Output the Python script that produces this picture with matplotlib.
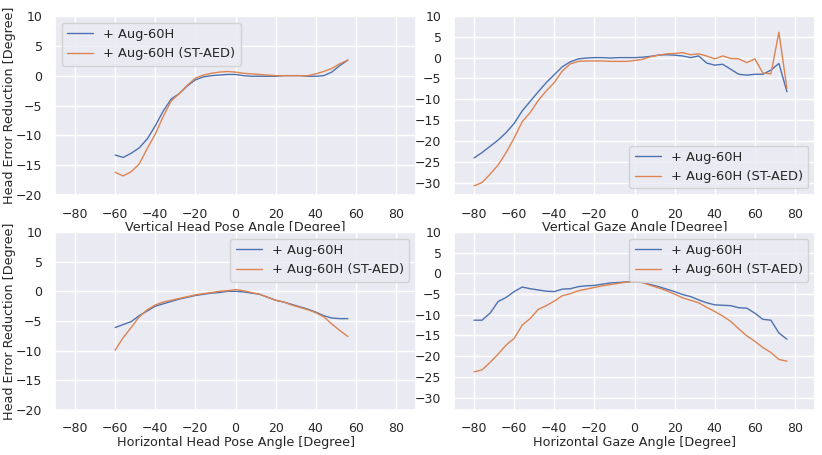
import numpy as np
import matplotlib
matplotlib.use("Agg")
import matplotlib.pyplot as plt
import seaborn as sns

sns.set_theme(style="darkgrid")
plt.rcParams['font.family'] = ['DejaVu Sans']

# ---- data ----
head_angles = list(range(-60, 57, 4))
gaze_angles = list(range(-80, 77, 4))

vhead_aug = [-13.3, -13.7, -13.0, -12.1, -10.6, -8.4, -5.9, -3.9, -3.0, -1.7,
             -0.7, -0.2, 0.0, 0.1, 0.2, 0.2, 0.0, -0.1, -0.1, -0.1,
             -0.1, 0.0, 0.0, 0.0, -0.1, -0.1, 0.0, 0.6, 1.7, 2.6]
vhead_staed = [-16.2, -16.8, -16.1, -14.8, -12.2, -9.8, -6.8, -4.2, -3.0, -1.6,
               -0.4, 0.1, 0.4, 0.6, 0.7, 0.6, 0.4, 0.3, 0.2, 0.1,
               0.0, 0.0, 0.0, 0.0, 0.0, 0.3, 0.7, 1.2, 2.0, 2.6]

vgaze_aug = [-24.1, -22.8, -21.3, -19.8, -18.0, -15.8, -12.8, -10.5, -8.2, -6.0,
             -4.1, -2.2, -1.0, -0.3, -0.1, 0.0, 0.0, -0.1, 0.0, 0.0,
             0.0, 0.1, 0.3, 0.6, 0.7, 0.6, 0.4, 0.0, 0.4, -1.3,
             -1.8, -1.6, -2.8, -4.0, -4.2, -4.0, -4.0, -3.0, -1.4, -8.2]
vgaze_staed = [-30.8, -30.0, -28.0, -25.8, -22.8, -19.3, -15.4, -13.2, -10.3, -8.0,
               -6.0, -3.2, -1.5, -0.9, -0.8, -0.8, -0.8, -0.9, -0.9, -0.9,
               -0.7, -0.4, 0.2, 0.6, 0.9, 1.0, 1.2, 0.7, 0.9, 0.4,
               -0.3, 0.4, -0.2, -0.3, -1.2, -0.3, -3.7, -3.9, 6.1, -7.4]

hhead_aug = [-6.1, -5.6, -5.1, -4.1, -3.3, -2.5, -2.1, -1.7, -1.3, -1.0,
             -0.7, -0.5, -0.3, -0.2, 0.0, 0.0, -0.1, -0.3, -0.5, -1.0,
             -1.5, -1.8, -2.2, -2.6, -3.0, -3.5, -4.1, -4.5, -4.6, -4.6]
hhead_staed = [-9.9, -7.8, -6.1, -4.3, -3.1, -2.3, -1.8, -1.5, -1.2, -0.9,
               -0.6, -0.4, -0.2, 0.0, 0.1, 0.3, 0.1, -0.2, -0.5, -1.0,
               -1.5, -1.8, -2.3, -2.7, -3.1, -3.6, -4.3, -5.5, -6.6, -7.6]

hgaze_aug = [-11.3, -11.3, -9.6, -6.8, -5.8, -4.4, -3.3, -3.7, -4.0, -4.3,
             -4.4, -3.8, -3.7, -3.2, -3.0, -2.9, -2.6, -2.3, -2.2, -2.05,
             -2.0, -2.2, -2.7, -3.2, -3.8, -4.4, -5.1, -5.6, -6.4, -7.1,
             -7.6, -7.7, -7.8, -8.3, -8.4, -9.6, -11.1, -11.3, -14.4, -15.9]
hgaze_staed = [-23.8, -23.3, -21.5, -19.5, -17.3, -15.7, -12.5, -10.9, -8.7, -7.8,
               -6.7, -5.4, -4.9, -4.2, -3.8, -3.4, -3.0, -2.7, -2.4, -2.1,
               -2.0, -2.2, -2.9, -3.5, -4.2, -5.0, -5.9, -6.5, -7.1, -8.2,
               -9.2, -10.3, -11.6, -13.4, -15.1, -16.4, -17.9, -19.1, -20.8, -21.2]

series_labels = ["+ Aug-60H", "+ Aug-60H (ST-AED)"]
xlabels = ["Vertical Head Pose Angle [Degree]", "Vertical Gaze Angle [Degree]",
           "Horizontal Head Pose Angle [Degree]", "Horizontal Gaze Angle [Degree]"]
ylabel = "Head Error Reduction [Degree]"

# ---- plot ----
W, H = 822, 455
fig = plt.figure(figsize=(W / 100, H / 100), dpi=100)

def rect(l, r, t, b):
    return [l / W, 1 - b / H, (r - l) / W, (b - t) / H]

axes = [fig.add_axes(rect(55, 416, 16, 195)),
        fig.add_axes(rect(454, 815, 16, 195)),
        fig.add_axes(rect(55, 416, 232, 410)),
        fig.add_axes(rect(454, 815, 232, 410))]

panels = [(head_angles, vhead_aug, vhead_staed, (-20, 10), "upper left"),
          (gaze_angles, vgaze_aug, vgaze_staed, (-33, 10), "lower right"),
          (head_angles, hhead_aug, hhead_staed, (-20, 10), "upper right"),
          (gaze_angles, hgaze_aug, hgaze_staed, (-33, 10), "upper right")]

blue, orange = "#4C72B0", "#DD8452"
fs_tick, fs_label, fs_leg = 9.0, 9.2, 9.4
for i, (ax, (xs, a, b, ylim, loc)) in enumerate(zip(axes, panels)):
    ax.plot(xs, a, color=blue, lw=1.0, label=series_labels[0])
    ax.plot(xs, b, color=orange, lw=1.0, label=series_labels[1])
    ax.set_xlim(-90, 90)
    ax.set_ylim(*ylim)
    ax.set_xticks([-80, -60, -40, -20, 0, 20, 40, 60, 80])
    if ylim[0] == -20:
        ax.set_yticks([-20, -15, -10, -5, 0, 5, 10])
    else:
        ax.set_yticks([-30, -25, -20, -15, -10, -5, 0, 5, 10])
    ax.tick_params(labelsize=fs_tick, pad=3.0)
    ax.set_xlabel(xlabels[i], fontsize=fs_label, labelpad=0.5)
    if i % 2 == 0:
        ax.set_ylabel(ylabel, fontsize=fs_label)
        ax.yaxis.set_label_coords(-38.5 / 361, 0.5)
    ax.legend(loc=loc, fontsize=fs_leg)

fig.savefig("out.png", dpi=100)
